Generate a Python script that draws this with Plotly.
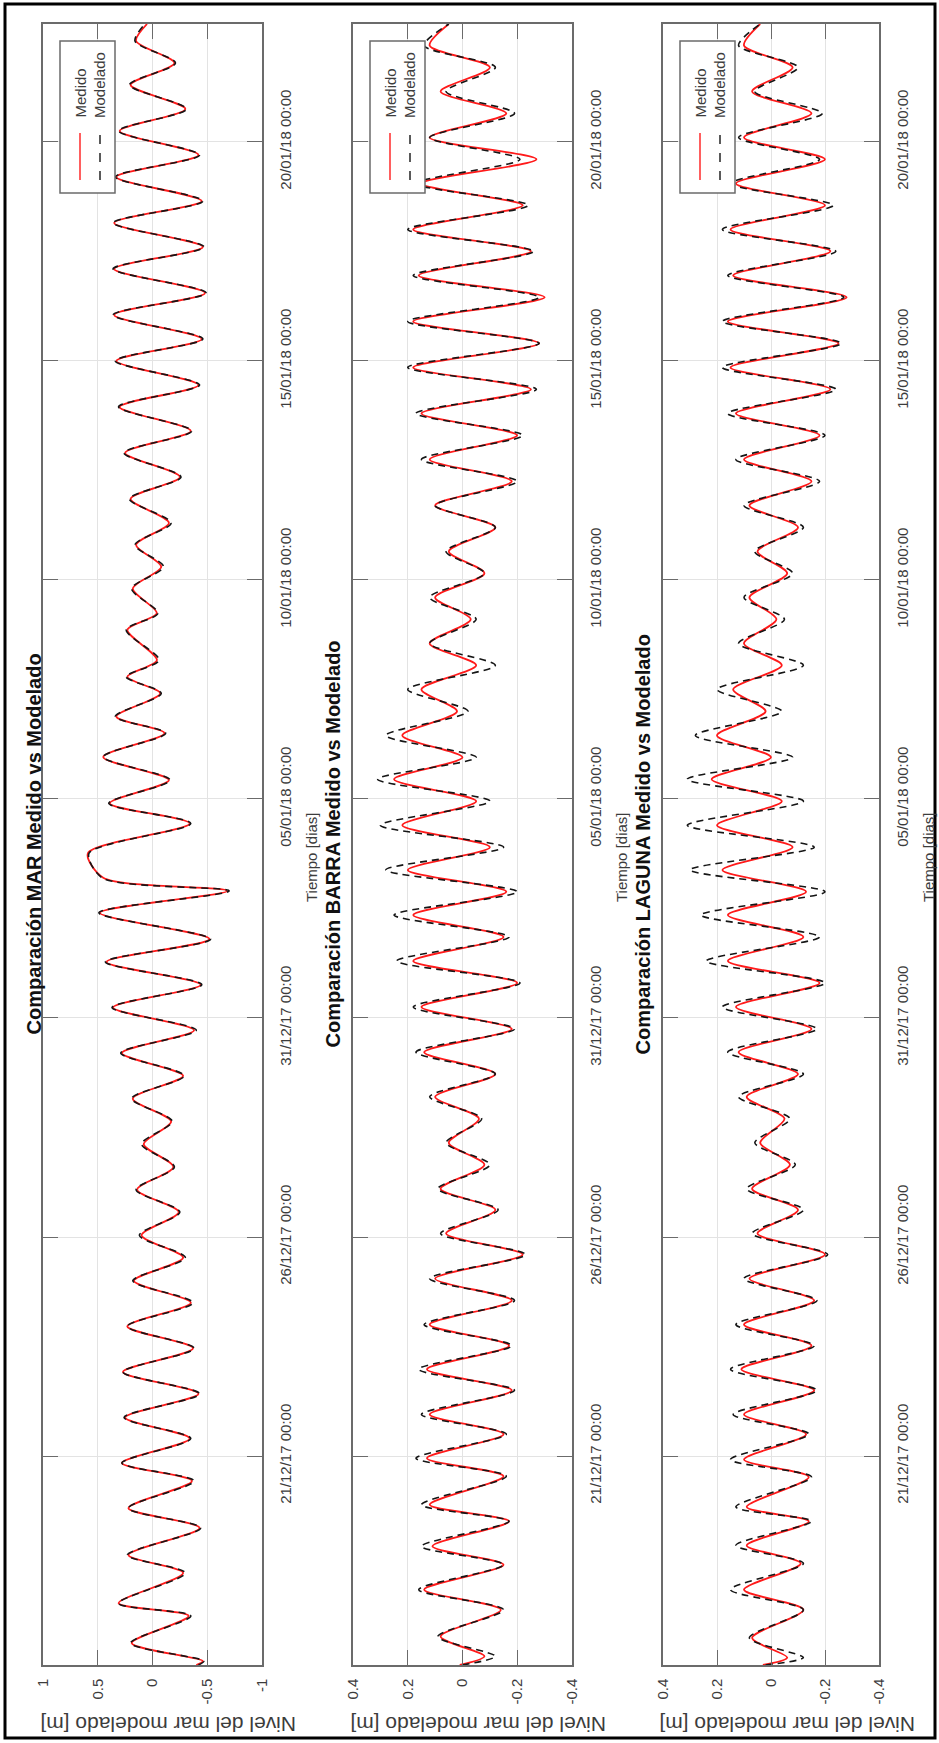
import pandas as pd
import plotly.graph_objects as go

W, H = 939, 1743
T0 = pd.Timestamp("2017-12-21 00:00")

# ---- MAR: turning points (days after 21/12/17 00:00) and sea level [m]
mar_dias = [-4.77, -4.68, -4.27, -3.65, -3.36, -2.67, -2.26, -1.64, -1.19, -0.57, -0.16,
            0.40, 0.88, 1.42, 1.92, 2.46, 2.96, 3.50, 4.00, 4.53, 5.04, 5.57, 6.08, 6.60,
            7.12, 7.64, 8.16, 8.68, 9.20, 9.72, 10.24, 10.76, 11.28, 11.80, 12.40, 12.90,
            13.20, 13.76, 14.44, 14.90, 15.43, 15.96, 16.50, 16.88, 17.41, 17.79, 18.17,
            18.86, 19.24, 19.80, 20.30, 20.80, 21.30, 21.85, 22.35, 22.90, 23.40, 23.95,
            24.45, 25.00, 25.50, 26.05, 26.55, 27.10, 27.60, 28.15, 28.65, 29.20, 29.70,
            30.25, 30.75, 31.30, 31.80, 32.30, 32.69]
mar_medido = [-0.40, -0.46, 0.19, -0.33, 0.31, -0.28, 0.22, -0.43, 0.22, -0.36, 0.28,
              -0.34, 0.25, -0.42, 0.27, -0.37, 0.23, -0.35, 0.17, -0.28, 0.10, -0.24, 0.14, -0.19,
              0.08, -0.17, 0.18, -0.28, 0.28, -0.38, 0.36, -0.44, 0.42, -0.52, 0.48, -0.68,
              0.45, 0.59, -0.34, 0.39, -0.15, 0.45, -0.11, 0.33, -0.07, 0.23, -0.04,
              0.23, -0.04, 0.18, -0.08, 0.15, -0.15, 0.20, -0.25, 0.25, -0.35, 0.30,
              -0.42, 0.33, -0.45, 0.35, -0.48, 0.35, -0.46, 0.35, -0.45, 0.33, -0.42,
              0.30, -0.30, 0.20, -0.20, 0.15, 0.05]
mar_modelado = [-0.42, -0.47, 0.20, -0.35, 0.31, -0.30, 0.23, -0.44, 0.22, -0.38, 0.28,
                -0.35, 0.26, -0.43, 0.27, -0.38, 0.23, -0.37, 0.18, -0.30, 0.12, -0.25, 0.15, -0.20,
                0.10, -0.18, 0.19, -0.29, 0.29, -0.40, 0.37, -0.45, 0.43, -0.53, 0.49, -0.70,
                0.46, 0.58, -0.35, 0.40, -0.16, 0.45, -0.12, 0.34, -0.08, 0.24, -0.06,
                0.24, -0.05, 0.19, -0.10, 0.16, -0.17, 0.21, -0.26, 0.26, -0.36, 0.31,
                -0.43, 0.34, -0.46, 0.36, -0.49, 0.36, -0.47, 0.36, -0.46, 0.34, -0.43,
                0.31, -0.31, 0.21, -0.21, 0.16, 0.07]

# ---- BARRA
barra_dias = [-4.77, -4.57, -4.12, -3.51, -3.05, -2.48, -2.06, -1.49, -1.11, -0.46, -0.05,
              0.50, 0.95, 1.50, 1.98, 2.52, 3.00, 3.55, 4.05, 4.60, 5.08, 5.62, 6.10, 6.65,
              7.15, 7.70, 8.20, 8.72, 9.22, 9.75, 10.25, 10.80, 11.30, 11.85, 12.35, 12.88,
              13.38, 13.90, 14.40, 14.95, 15.45, 15.95, 16.45, 17.00, 17.50, 18.05, 18.55,
              19.10, 19.60, 20.15, 20.65, 21.20, 21.70, 22.25, 22.75, 23.30, 23.80, 24.35,
              24.85, 25.40, 25.90, 26.45, 26.95, 27.50, 28.00, 28.55, 29.05, 29.60, 30.10,
              30.65, 31.15, 31.70, 32.20, 32.69]
barra_medido = [0.01, -0.08, 0.08, -0.14, 0.14, -0.15, 0.11, -0.17, 0.12, -0.15, 0.13,
                -0.15, 0.12, -0.18, 0.13, -0.17, 0.12, -0.18, 0.10, -0.22, 0.06, -0.12, 0.08, -0.08,
                0.05, -0.06, 0.10, -0.12, 0.14, -0.18, 0.15, -0.20, 0.18, -0.15, 0.18, -0.16,
                0.20, -0.10, 0.22, -0.05, 0.25, 0.00, 0.22, 0.02, 0.15, -0.05, 0.12,
                -0.03, 0.10, -0.08, 0.05, -0.12, 0.10, -0.18, 0.12, -0.20, 0.15, -0.25,
                0.18, -0.28, 0.18, -0.30, 0.16, -0.25, 0.18, -0.22, 0.15, -0.27, 0.12,
                -0.16, 0.08, -0.10, 0.12, 0.05]
barra_modelado = [0.00, -0.12, 0.09, -0.15, 0.16, -0.15, 0.15, -0.17, 0.15, -0.16, 0.17,
                  -0.16, 0.15, -0.19, 0.16, -0.18, 0.14, -0.19, 0.12, -0.23, 0.08, -0.13, 0.09, -0.10,
                  0.06, -0.07, 0.12, -0.12, 0.17, -0.19, 0.18, -0.21, 0.24, -0.17, 0.25, -0.20,
                  0.28, -0.15, 0.30, -0.10, 0.31, -0.05, 0.28, -0.02, 0.20, -0.12, 0.12,
                  -0.05, 0.12, -0.08, 0.06, -0.12, 0.10, -0.20, 0.15, -0.22, 0.17, -0.27,
                  0.20, -0.28, 0.20, -0.28, 0.18, -0.26, 0.20, -0.24, 0.17, -0.21, 0.12,
                  -0.19, 0.06, -0.12, 0.14, 0.05]

# ---- LAGUNA
laguna_dias = [-4.77, -4.60, -4.15, -3.51, -3.05, -2.45, -2.04, -1.49, -1.16, -0.48, -0.08,
               0.50, 0.95, 1.50, 1.98, 2.52, 3.00, 3.55, 4.05, 4.60, 5.08, 5.62, 6.10, 6.65,
               7.15, 7.70, 8.20, 8.72, 9.22, 9.75, 10.25, 10.80, 11.30, 11.85, 12.35, 12.88,
               13.38, 13.90, 14.40, 14.95, 15.45, 15.95, 16.45, 17.00, 17.50, 18.05, 18.55,
               19.10, 19.60, 20.15, 20.65, 21.20, 21.70, 22.25, 22.75, 23.30, 23.80, 24.35,
               24.85, 25.40, 25.90, 26.45, 26.95, 27.50, 28.00, 28.55, 29.05, 29.60, 30.10,
               30.65, 31.15, 31.70, 32.20, 32.69]
laguna_medido = [0.03, -0.06, 0.07, -0.12, 0.10, -0.11, 0.09, -0.14, 0.09, -0.14, 0.10,
                 -0.13, 0.10, -0.16, 0.11, -0.15, 0.10, -0.16, 0.08, -0.20, 0.05, -0.10, 0.07, -0.07,
                 0.04, -0.05, 0.09, -0.10, 0.12, -0.15, 0.13, -0.18, 0.16, -0.12, 0.16, -0.13,
                 0.18, -0.08, 0.20, -0.04, 0.22, 0.00, 0.20, 0.02, 0.14, -0.04, 0.10,
                 -0.02, 0.08, -0.06, 0.05, -0.10, 0.08, -0.15, 0.10, -0.18, 0.13, -0.22,
                 0.15, -0.25, 0.16, -0.28, 0.14, -0.22, 0.15, -0.20, 0.13, -0.20, 0.10,
                 -0.15, 0.07, -0.08, 0.10, 0.04]
laguna_modelado = [0.02, -0.12, 0.08, -0.12, 0.15, -0.12, 0.13, -0.15, 0.13, -0.15, 0.15,
                   -0.14, 0.14, -0.17, 0.15, -0.16, 0.13, -0.17, 0.10, -0.21, 0.07, -0.12, 0.09, -0.09,
                   0.06, -0.07, 0.12, -0.12, 0.16, -0.17, 0.18, -0.20, 0.24, -0.18, 0.26, -0.20,
                   0.30, -0.16, 0.31, -0.12, 0.31, -0.08, 0.28, -0.04, 0.20, -0.12, 0.12,
                   -0.05, 0.10, -0.08, 0.06, -0.12, 0.10, -0.18, 0.13, -0.20, 0.16, -0.24,
                   0.18, -0.26, 0.18, -0.27, 0.16, -0.24, 0.18, -0.23, 0.15, -0.18, 0.12,
                   -0.19, 0.06, -0.10, 0.12, 0.04]

# axis ticks
fechas_ticks = ["2017-12-21", "2017-12-26", "2017-12-31", "2018-01-05",
                "2018-01-10", "2018-01-15", "2018-01-20"]
mar_ticks = [1, 0.5, 0, -0.5, -1]
mar_ticktext = ["1", "0.5", "0", "-0.5", "-1"]
est_ticks = [0.4, 0.2, 0, -0.2, -0.4]
est_ticktext = ["0.4", "0.2", "0", "-0.2", "-0.4"]

titulos = ["Comparación MAR Medido vs Modelado",
           "Comparación BARRA Medido vs Modelado",
           "Comparación LAGUNA Medido vs Modelado"]


def a_fechas(dias):
    return [T0 + pd.Timedelta(days=d) for d in dias]


def px(x, y):
    """pixel position -> paper coordinates"""
    return x / W, 1 - y / H


FONT = "Liberation Sans, Arial, sans-serif"
TXT = "#3c3c3c"
EJE = "#6b6b6b"
GRID = "#e3e3e3"
ROJO = "#ff1a1a"
NEGRO = "#151515"

paneles = [
    (mar_dias, mar_medido, mar_modelado, [1, -1], mar_ticks, mar_ticktext, 43, 262),
    (barra_dias, barra_medido, barra_modelado, [0.4, -0.4], est_ticks, est_ticktext, 353, 572),
    (laguna_dias, laguna_medido, laguna_modelado, [0.4, -0.4], est_ticks, est_ticktext, 663, 879),
]

TOP_PX, BOT_PX = 24, 1665
y_dom = [1 - BOT_PX / H, 1 - TOP_PX / H]
t_ini = T0 + pd.Timedelta(days=-4.77)
t_fin = T0 + pd.Timedelta(days=32.69)

fig = go.Figure()
layout = dict(
    width=W, height=H, autosize=False,
    margin=dict(l=0, r=0, t=0, b=0),
    paper_bgcolor="white", plot_bgcolor="white",
    showlegend=False,
    font=dict(family=FONT, color=TXT),
)
shapes = []
annotations = []

for i, (dias, med, mod, rng, tv, tt, x0, x1) in enumerate(paneles):
    k = "" if i == 0 else str(i + 1)
    tiempos = a_fechas(dias)
    fig.add_trace(go.Scatter(x=med, y=tiempos, mode="lines", name="Medido",
                             xaxis="x" + k, yaxis="y" + k,
                             line=dict(color=ROJO, width=1.8, shape="spline", smoothing=0.8)))
    fig.add_trace(go.Scatter(x=mod, y=tiempos, mode="lines", name="Modelado",
                             xaxis="x" + k, yaxis="y" + k,
                             line=dict(color=NEGRO, width=1.6, dash="7px,5px",
                                       shape="spline", smoothing=0.8)))

    layout["xaxis" + k] = dict(
        domain=[x0 / W, x1 / W], anchor="y" + k, range=rng, side="bottom",
        tickmode="array", tickvals=tv, ticktext=tt, tickangle=-90,
        ticks="inside", ticklen=15, tickcolor=EJE, mirror="allticks",
        showline=True, linecolor=EJE, linewidth=1.5,
        showgrid=True, gridcolor=GRID, zeroline=False,
        tickfont=dict(size=15, color=TXT), ticklabelstandoff=6,
        automargin=False, fixedrange=True,
    )
    layout["yaxis" + k] = dict(
        domain=y_dom, anchor="x" + k, type="date", side="right",
        range=[t_ini, t_fin],
        tickmode="array", tickvals=fechas_ticks, tickformat="%d/%m/%y %H:%M",
        tickangle=-90, ticks="inside", ticklen=15, tickcolor=EJE, mirror="allticks",
        showline=True, linecolor=EJE, linewidth=1.5,
        showgrid=True, gridcolor=GRID, zeroline=False,
        tickfont=dict(size=15, color=TXT), ticklabelstandoff=9,
        automargin=False, fixedrange=True,
    )

    # titles, axis labels
    tx = [33, 332, 642][i]
    ax_, ay_ = px(tx, (TOP_PX + BOT_PX) / 2)
    annotations.append(dict(text="<b>" + titulos[i] + "</b>", x=ax_, y=ay_,
                            xref="paper", yref="paper", showarrow=False, textangle=-90,
                            xanchor="center", yanchor="middle",
                            font=dict(size=20, color="#111111")))
    ax_, ay_ = px(x1 + 49, 858)
    annotations.append(dict(text="Tiempo [dias]", x=ax_, y=ay_,
                            xref="paper", yref="paper", showarrow=False, textangle=-90,
                            xanchor="center", yanchor="middle",
                            font=dict(size=15, color=TXT)))
    ax_, ay_ = px((x0 + x1) / 2 + 16, 1725)
    annotations.append(dict(text="Nivel del mar modelado [m]", x=ax_, y=ay_,
                            xref="paper", yref="paper", showarrow=False, textangle=180,
                            xanchor="center", yanchor="middle",
                            font=dict(size=21, color=TXT)))

    # legend box
    bx0, by0 = px(x0 + 17, 41)
    bx1, by1 = px(x0 + 72, 193)
    shapes.append(dict(type="rect", xref="paper", yref="paper",
                       x0=bx0, x1=bx1, y0=by1, y1=by0,
                       line=dict(color="#6b6b6b", width=1.5), fillcolor="white", layer="above"))
    for j, (nombre, color, dash) in enumerate([("Medido", ROJO, "solid"),
                                                ("Modelado", NEGRO, "dash")]):
        cx = x0 + [37, 57][j]
        lx, ly0 = px(cx, 180)
        _, ly1 = px(cx, 133)
        shapes.append(dict(type="line", xref="paper", yref="paper",
                           x0=lx, x1=lx, y0=ly0, y1=ly1, layer="above",
                           line=dict(color=color, width=1.4, dash=dash)))
        tx_, ty_ = px(cx, 120)
        annotations.append(dict(text=nombre, x=tx_, y=ty_, xref="paper", yref="paper",
                                showarrow=False, textangle=-90, xanchor="center",
                                yanchor="bottom", font=dict(size=15, color=TXT)))

# outer frame
fx0, fy0 = px(5, 4)
fx1, fy1 = px(935, 1738)
shapes.append(dict(type="rect", xref="paper", yref="paper", x0=fx0, x1=fx1, y0=fy1, y1=fy0,
                   line=dict(color="black", width=3), layer="above"))

layout["shapes"] = shapes
layout["annotations"] = annotations
fig.update_layout(**layout)
fig.write_html("out.html")
